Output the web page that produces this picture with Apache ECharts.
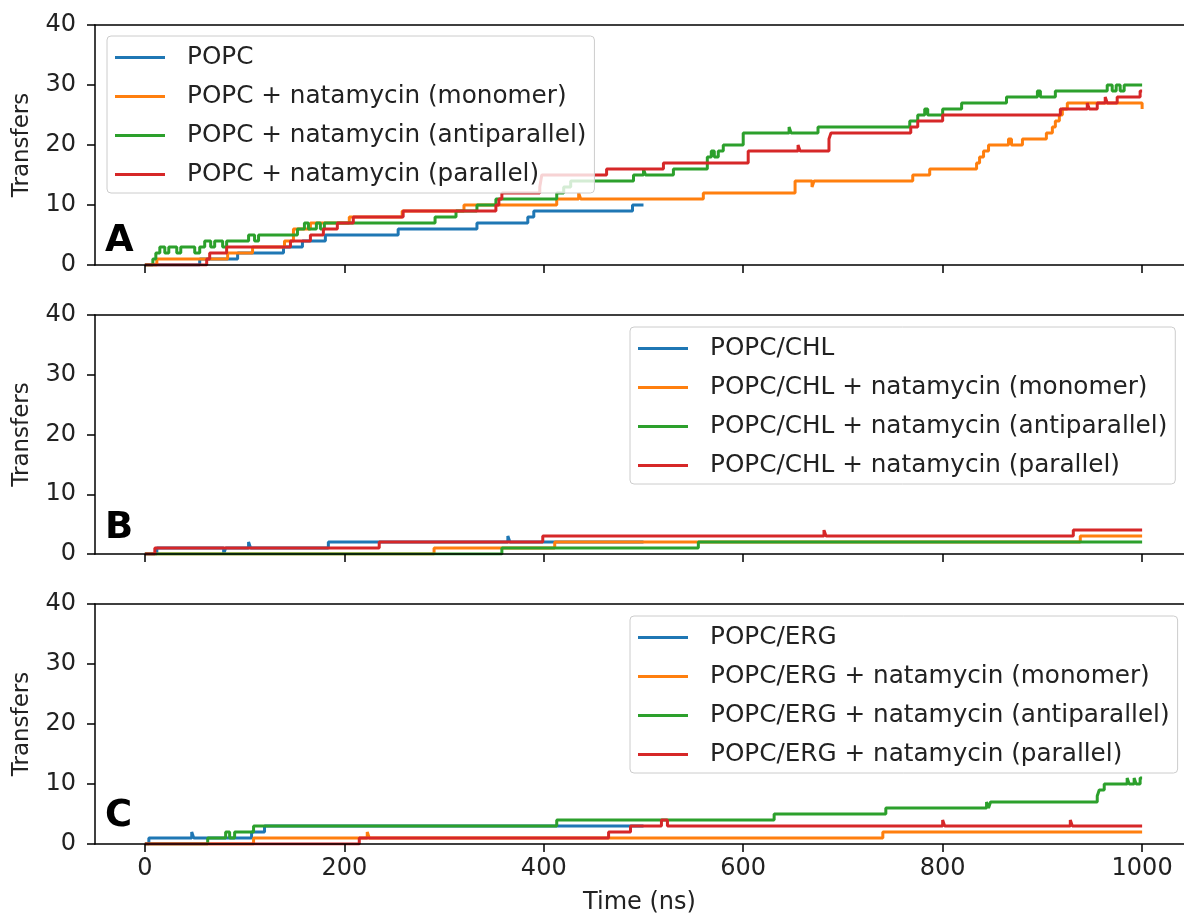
<!DOCTYPE html>
<html>
<head>
<meta charset="utf-8">
<script src="https://cdn.jsdelivr.net/npm/echarts@6/dist/echarts.min.js"></script>
<style>
  html, body { margin: 0; padding: 0; background: #fff; }
  #chart { width: 1184px; height: 916px; }
</style>
</head>
<body>
<div id="chart"></div>
<script>
// step data: [time (ns), transfers] -- value holds from that time on
const popcA = [[0,0],[55,1],[93,2],[139,3],[158,4],[181,5],[254,6],[333,7],[384,8],[390,9],[489,10],[500,10]];
const monoA = [[0,0],[12,1],[83,2],[108,3],[140,4],[149,6],[166,7],[205,8],[258,9],[320,10],[413,11],[435,12],[437,11],
  [560,12],[652,14],[669,13],[671,14],[770,15],[787,16],[834,17],[837,18],[841,19],[846,20],[866,21],[869,20],[880,21],
  [904,22],[910,23],[913,24],[917,25],[920,26],[925,27],[1000,26]];
const antiA = [[0,0],[8,1],[11,2],[15,3],[20,2],[24,3],[32,2],[36,3],[50,2],[55,3],[60,4],[66,3],[70,4],[78,3],[82,4],
  [104,5],[110,4],[114,5],[153,6],[160,7],[164,6],[172,7],[176,6],[180,7],[291,8],[312,9],[333,10],[352,11],[413,12],
  [420,13],[427,14],[490,15],[500,16],[502,15],[530,16],[564,18],[568,19],[571,18],[575,19],[580,20],[600,22],[646,23],
  [648,22],[675,23],[767,24],[775,25],[782,26],[785,25],[800,26],[819,27],[864,28],[895,29],[898,28],[913,29],[965,30],
  [970,29],[974,30],[978,29],[982,30],[1000,30]];
const paraA = [[0,0],[62,1],[65,2],[82,3],[146,4],[166,5],[179,6],[193,7],[209,8],[259,9],[352,10],[355,11],[358,12],
  [396,13],[397,14],[398,15],[463,16],[520,17],[605,19],[655,20],[657,19],[686,21],[688,22],[768,23],[775,24],[800,25],
  [918,26],[945,27],[947,26],[955,27],[963,28],[965,27],[975,28],[998,29],[1000,29]];

const popcB = [[0,0],[12,1],[79,0],[81,1],[104,2],[106,1],[184,2],[364,3],[366,2],[500,2]];
const monoB = [[0,0],[290,1],[411,2],[938,3],[1000,3]];
const antiB = [[0,0],[358,1],[555,2],[1000,2]];
const paraB = [[0,0],[10,1],[235,2],[399,3],[681,4],[683,3],[931,4],[1000,4]];

const popcC = [[0,0],[4,1],[47,2],[49,1],[107,2],[120,3],[500,3]];
const monoC = [[0,0],[109,1],[223,2],[225,1],[740,2],[1000,2]];
const antiC = [[0,0],[63,1],[81,2],[85,1],[90,2],[109,3],[413,4],[631,5],[743,6],[844,7],[846,6],[848,7],[955,8],
  [957,9],[962,10],[985,11],[987,10],[992,11],[994,10],[998,11],[1000,11]];
const paraC = [[0,0],[215,1],[465,2],[487,3],[518,4],[524,3],[800,4],[802,3],[928,4],[930,3],[1000,3]];

const namesA = ['POPC', 'POPC + natamycin (monomer)', 'POPC + natamycin (antiparallel)', 'POPC + natamycin (parallel)'];
const namesB = ['POPC/CHL', 'POPC/CHL + natamycin (monomer)', 'POPC/CHL + natamycin (antiparallel)', 'POPC/CHL + natamycin (parallel)'];
const namesC = ['POPC/ERG', 'POPC/ERG + natamycin (monomer)', 'POPC/ERG + natamycin (antiparallel)', 'POPC/ERG + natamycin (parallel)'];
const panelLetters = ['A', 'B', 'C'];
const xTicks = [0, 200, 400, 600, 800, 1000];

const colors = ['#1f77b4', '#ff7f0e', '#2ca02c', '#d62728'];
const panelData = [[popcA, monoA, antiA, paraA], [popcB, monoB, antiB, paraB], [popcC, monoC, antiC, paraC]];
const panelNames = [namesA, namesB, namesC];

const font = 'DejaVu Sans';
const txt = '#222';
const gridTops = [25, 315, 604];
const gridHeights = [240, 239, 240];
const legendPos = [[107, 36], [630, 327], [630, 616]];
const letterTops = [223, 510, 798];
const axisLine = { show: true, onZero: false, lineStyle: { color: '#000', width: 1.5 } };

const chart = echarts.init(document.getElementById('chart'));

const grids = [], xAxes = [], yAxes = [], series = [], legends = [], graphics = [];
for (let p = 0; p < 3; p++) {
  const last = p === 2;
  grids.push({ left: 95, right: 0, top: gridTops[p], height: gridHeights[p] });
  xAxes.push({
    type: 'value', gridIndex: p, min: -50, max: 1042, z: 5,
    splitLine: { show: false },
    axisLine: axisLine,
    axisTick: { show: true, customValues: xTicks, length: 8, lineStyle: { color: '#000', width: 1.5 } },
    axisLabel: { show: last, customValues: xTicks, margin: 13, fontSize: 24, color: txt, fontFamily: font,
      formatter: (v) => String(v) },
    name: last ? 'Time (ns)' : '',
    nameLocation: 'middle', nameGap: 47,
    nameTextStyle: { fontSize: 24, color: txt, fontFamily: font }
  });
  yAxes.push({
    type: 'value', gridIndex: p, min: 0, max: 40, interval: 10, z: 5,
    splitLine: { show: false },
    axisLine: axisLine,
    axisTick: { show: true, length: 8, lineStyle: { color: '#000', width: 1.5 } },
    axisLabel: { margin: 19, fontSize: 24, color: txt, fontFamily: font },
    name: 'Transfers', nameLocation: 'middle', nameGap: 61,
    nameTextStyle: { fontSize: 23, color: txt, fontFamily: font }
  });
  for (let s = 0; s < 4; s++) {
    series.push({
      name: panelNames[p][s], type: 'line', step: 'end',
      xAxisIndex: p, yAxisIndex: p,
      showSymbol: false, symbol: 'none',
      color: colors[s],
      lineStyle: { width: 3, color: colors[s] },
      data: panelData[p][s]
    });
  }
  legends.push({
    left: legendPos[p][0], top: legendPos[p][1],
    orient: 'vertical', icon: 'rect', itemWidth: 50, itemHeight: 3, itemGap: 14,
    padding: [9, 8, 6, 8],
    backgroundColor: 'rgba(255,255,255,0.8)', borderColor: '#ccc', borderWidth: 1, borderRadius: 4,
    selectedMode: false,
    textStyle: { fontSize: 24.7, color: txt, fontFamily: font, lineHeight: 24, padding: [0, 0, 0, 17] },
    data: panelNames[p]
  });
  graphics.push({
    type: 'text', left: 105, top: letterTops[p], z: 10,
    style: { text: panelLetters[p], font: 'bold 37px "DejaVu Sans"', fill: '#000' }
  });
}
// top spines
for (let p = 0; p < 3; p++) {
  xAxes.push({
    type: 'value', gridIndex: p, position: 'top', min: -50, max: 1042, z: 5,
    splitLine: { show: false }, axisTick: { show: false }, axisLabel: { show: false },
    axisLine: axisLine
  });
}

chart.setOption({
  animation: false,
  textStyle: { fontFamily: font },
  grid: grids,
  xAxis: xAxes,
  yAxis: yAxes,
  legend: legends,
  graphic: graphics,
  series: series
});
</script>
</body>
</html>
